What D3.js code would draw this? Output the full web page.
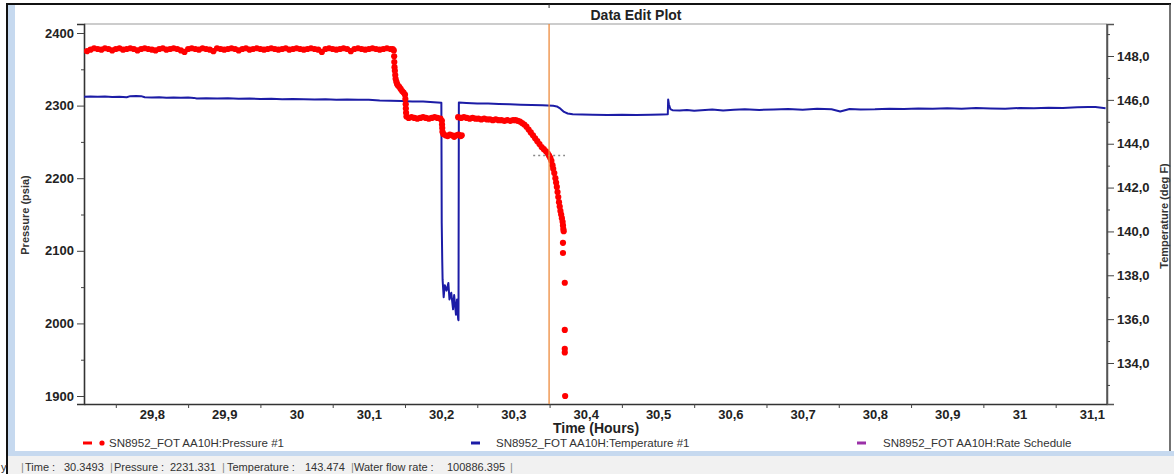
<!DOCTYPE html>
<html><head><meta charset="utf-8">
<script src="https://cdn.jsdelivr.net/npm/d3@7"></script>
<style>
body{margin:0;background:#fff;}
svg{display:block;font-family:"Liberation Sans",Arial,sans-serif;}
</style>
</head><body>
<svg id="chart" width="1174" height="474"></svg>
<script>
// ---------- data ----------
const pressure = [
[29.710,2375],[29.715,2377],[29.720,2379],[29.725,2378],[29.730,2377],[29.735,2379],[29.740,2378],[29.745,2376],
[29.750,2378],[29.755,2379],[29.760,2377],[29.765,2378],[29.770,2379],[29.775,2378],[29.780,2376],[29.785,2378],
[29.790,2379],[29.795,2378],[29.800,2377],[29.805,2376],[29.810,2378],[29.815,2379],[29.820,2377],[29.825,2378],
[29.830,2379],[29.835,2378],[29.840,2376],[29.845,2374],[29.850,2378],[29.855,2379],[29.860,2378],[29.865,2377],
[29.870,2379],[29.875,2378],[29.880,2377],[29.885,2375],[29.890,2379],[29.895,2378],[29.900,2377],[29.905,2378],
[29.910,2379],[29.915,2378],[29.920,2376],[29.925,2378],[29.930,2379],[29.935,2377],[29.940,2378],[29.945,2379],
[29.950,2378],[29.955,2377],[29.960,2378],[29.965,2379],[29.970,2378],[29.975,2377],[29.980,2378],[29.985,2379],
[29.990,2377],[29.995,2378],[30.000,2379],[30.005,2378],[30.010,2377],[30.015,2378],[30.020,2379],[30.025,2378],
[30.030,2377],[30.035,2374],[30.040,2378],[30.045,2379],[30.050,2378],[30.055,2377],[30.060,2378],[30.065,2379],
[30.070,2378],[30.075,2375],[30.080,2378],[30.085,2379],[30.090,2378],[30.095,2377],[30.100,2378],[30.105,2379],
[30.110,2378],[30.115,2377],[30.120,2378],[30.125,2379],[30.130,2378],[30.133,2378],[30.1345,2376],
[30.1350,2368],[30.1352,2360],[30.1355,2353],[30.1360,2348],[30.1365,2342],[30.1370,2337],[30.1380,2333],
[30.1390,2330],[30.1400,2328],[30.1420,2326],[30.1440,2323],[30.1460,2320],[30.1480,2318],[30.1500,2315],
[30.1505,2309],[30.1510,2302],[30.1512,2296],[30.1515,2290],[30.1520,2285],
[30.1550,2283],[30.1590,2284],[30.1630,2283],[30.1670,2282],[30.1710,2283],[30.1750,2284],[30.1790,2283],
[30.1830,2282],[30.1870,2283],[30.1910,2284],[30.1950,2283],[30.1990,2282],
[30.2010,2279],[30.2012,2274],[30.2015,2269],[30.2018,2264],
[30.2030,2261],[30.2060,2259],[30.2090,2258],[30.2120,2260],[30.2150,2259],[30.2180,2257],[30.2210,2259],
[30.2240,2260],[30.2270,2258],[30.2285,2259],
[30.2235,2284],[30.2275,2283],[30.2315,2284],[30.2355,2283],[30.2395,2282],[30.2435,2283],[30.2475,2282],
[30.2515,2282],[30.2555,2281],[30.2595,2282],[30.2635,2281],[30.2675,2281],[30.2715,2280],[30.2755,2281],
[30.2795,2280],[30.2835,2280],[30.2875,2279],[30.2915,2280],[30.2955,2279],[30.2995,2280],
[30.3030,2280],[30.3060,2279],[30.3090,2278],[30.3120,2276],[30.3150,2274],[30.3180,2271],[30.3210,2267],
[30.3240,2263],[30.3270,2259],[30.3300,2255],[30.3330,2251],[30.3360,2247],[30.3390,2243],[30.3420,2240],
[30.3450,2237],[30.3475,2234],[30.3493,2231],[30.3510,2228],[30.3525,2224],[30.3540,2218],[30.3550,2213],
[30.3565,2207],[30.3580,2200],[30.3590,2194],[30.3600,2188],[30.3610,2181],[30.3620,2174],[30.3630,2167],
[30.3640,2161],[30.3650,2155],[30.3660,2150],[30.3670,2145],[30.3680,2140],[30.3685,2135],[30.3690,2130],
[30.3695,2127],
[30.3685,2111],[30.3685,2097],[30.3710,2056],[30.3710,1991],[30.3710,1965],[30.3710,1960],[30.3715,1900]
];

const temperature = [
[29.706,146.14],[29.715,146.15],[29.725,146.14],[29.735,146.15],[29.745,146.13],[29.755,146.14],[29.765,146.12],
[29.770,146.17],[29.778,146.18],[29.785,146.17],[29.790,146.12],[29.800,146.11],[29.810,146.12],[29.820,146.10],
[29.830,146.11],[29.840,146.10],[29.850,146.11],[29.858,146.09],[29.862,146.06],[29.875,146.07],[29.890,146.06],
[29.905,146.07],[29.920,146.05],[29.935,146.06],[29.950,146.04],[29.965,146.05],[29.980,146.03],[29.995,146.04],
[30.010,146.03],[30.025,146.02],[30.040,146.03],[30.055,146.01],[30.070,146.02],[30.085,146.00],[30.100,146.00],
[30.115,145.97],[30.130,145.96],[30.145,145.95],[30.160,145.93],[30.175,145.92],[30.190,145.89],[30.2003,145.87],
[30.2008,140.4],[30.2015,138.7],[30.2020,137.8],[30.2035,137.0],[30.2050,137.55],[30.2075,137.3],[30.2100,137.65],
[30.2115,136.9],[30.2140,137.2],[30.2165,136.45],[30.2180,137.1],[30.2205,136.2],[30.2220,136.9],[30.2235,136.0],
[30.2240,135.95],[30.2245,145.88],[30.235,145.86],[30.250,145.84],[30.265,145.83],[30.280,145.81],[30.295,145.80],
[30.310,145.78],[30.325,145.77],[30.340,145.75],[30.355,145.73],[30.360,145.70],[30.365,145.60],[30.370,145.45],
[30.375,145.38],[30.382,145.34],[30.395,145.33],[30.410,145.32],[30.430,145.31],[30.450,145.32],[30.470,145.31],
[30.490,145.32],[30.505,145.33],[30.5135,145.34],[30.5140,146.02],[30.5150,145.80],[30.5170,145.58],[30.520,145.53],
[30.530,145.51],[30.540,145.54],[30.550,145.50],[30.560,145.53],[30.575,145.56],[30.590,145.52],[30.605,145.55],
[30.620,145.57],[30.640,145.54],[30.660,145.56],[30.680,145.58],[30.700,145.55],[30.720,145.59],[30.740,145.57],
[30.752,145.47],[30.765,145.58],[30.780,145.56],[30.800,145.57],[30.820,145.60],[30.840,145.58],[30.860,145.61],
[30.880,145.59],[30.900,145.62],[30.920,145.60],[30.940,145.63],[30.960,145.61],[30.980,145.60],[31.000,145.63],
[31.020,145.62],[31.040,145.64],[31.060,145.63],[31.080,145.66],[31.095,145.68],[31.105,145.67],[31.119,145.62]
];

const xTicks = [29.8,29.9,30.0,30.1,30.2,30.3,30.4,30.5,30.6,30.7,30.8,30.9,31.0,31.1];
const xMinorTicks = [29.75,29.85,29.95,30.05,30.15,30.25,30.35,30.45,30.55,30.65,30.75,30.85,30.95,31.05];
const pTicks = [1900,2000,2100,2200,2300,2400];
const pMinorTicks = [1950,2050,2150,2250,2350];
const tTicks = [134,136,138,140,142,144,146,148];
const tMinorTicks = [133,135,137,139,141,143,145,147,149];

const cursorTime = 30.3493;
const cursorPressure = 2231.331;
const cursorTemperature = 143.474;
const cursorRate = 100886.395;

const legendNames = ["SN8952_FOT AA10H:Pressure #1","SN8952_FOT AA10H:Temperature #1","SN8952_FOT AA10H:Rate Schedule"];
const legendColors = ["#ff0000","#1c1ca6","#9b30a8"];

// ---------- layout ----------
const svg = d3.select("#chart");
const L = 84, R = 1107, T = 24, B = 404;

const x = d3.scaleLinear().domain([29.706, 31.121]).range([L, R]);
const yP = d3.scaleLinear().domain([1889, 2412.4]).range([B, T]);
const yT = d3.scaleLinear().domain([132.13, 149.46]).range([B, T]);

// window frame
svg.append("rect").attr("x",0).attr("y",0).attr("width",1174).attr("height",474).attr("fill","#fff");
svg.append("rect").attr("x",7).attr("y",456).attr("width",1167).attr("height",18).attr("fill","#f1f1f1");
svg.append("rect").attr("x",8).attr("y",5).attr("width",7).attr("height",448).attr("fill","#c6d9ef");
svg.append("rect").attr("x",7).attr("y",451).attr("width",1167).attr("height",5).attr("fill","#c6d9ef");
svg.append("line").attr("x1",7).attr("x2",7).attr("y1",3).attr("y2",474).attr("stroke","#111").attr("stroke-width",2);
svg.append("line").attr("x1",6).attr("x2",1171).attr("y1",4).attr("y2",4).attr("stroke","#111").attr("stroke-width",2);
svg.append("line").attr("x1",1170).attr("x2",1170).attr("y1",4).attr("y2",451).attr("stroke","#444").attr("stroke-width",1.5);

// title
svg.append("text").attr("x",636).attr("y",20).attr("text-anchor","middle")
  .attr("font-size",14).attr("font-weight","bold").attr("fill","#222").text("Data Edit Plot");

// plot border
svg.append("line").attr("x1",L).attr("x2",R).attr("y1",T).attr("y2",T).attr("stroke","#9a9a9a").attr("stroke-width",1.2);
svg.append("line").attr("x1",R).attr("x2",R).attr("y1",T).attr("y2",B).attr("stroke","#555").attr("stroke-width",1.5);

const comma = s => s.replace(".", ",");
const fmtX = d => comma(Math.abs(d - Math.round(d)) < 1e-9 ? String(Math.round(d)) : d3.format(".1f")(d));

function styleAxis(g){
  g.select(".domain").attr("stroke","#333").attr("stroke-width",1.6);
  g.selectAll(".tick line").attr("stroke","#444");
  g.selectAll(".tick text").attr("fill","#222").attr("font-size",13).attr("font-weight","bold")
    .attr("font-family","Liberation Sans, Arial, sans-serif");
}

// x axis
const gx = svg.append("g").attr("transform",`translate(0,${B})`)
  .call(d3.axisBottom(x).tickValues(xTicks).tickSize(0).tickPadding(6).tickFormat(fmtX));
styleAxis(gx);
const gxm = svg.append("g").attr("transform",`translate(0,${B})`)
  .call(d3.axisBottom(x).tickValues(xMinorTicks).tickSize(4).tickFormat(""));
gxm.select(".domain").remove(); gxm.selectAll(".tick line").attr("stroke","#444");

// left axis
const gl = svg.append("g").attr("transform",`translate(${L},0)`)
  .call(d3.axisLeft(yP).tickValues(pTicks).tickSize(7).tickPadding(3).tickFormat(d3.format("d")));
styleAxis(gl);
const glm = svg.append("g").attr("transform",`translate(${L},0)`)
  .call(d3.axisLeft(yP).tickValues(pMinorTicks).tickSize(3).tickFormat(""));
glm.select(".domain").remove(); glm.selectAll(".tick line").attr("stroke","#444");

// right axis
const gr = svg.append("g").attr("transform",`translate(${R},0)`)
  .call(d3.axisRight(yT).tickValues(tTicks).tickSize(7).tickPadding(3).tickFormat(d => comma(d3.format(".1f")(d))));
styleAxis(gr);
gr.select(".domain").attr("stroke","#555").attr("stroke-width",1.5);
const grm = svg.append("g").attr("transform",`translate(${R},0)`)
  .call(d3.axisRight(yT).tickValues(tMinorTicks).tickSize(3).tickFormat(""));
grm.select(".domain").remove(); grm.selectAll(".tick line").attr("stroke","#444");

// axis titles
svg.append("text").attr("transform",`translate(29,215) rotate(-90)`).attr("text-anchor","middle")
  .attr("font-size",11).attr("font-weight","bold").attr("fill","#333").text("Pressure (psia)");
svg.append("text").attr("transform",`translate(1168,216) rotate(-90)`).attr("text-anchor","middle")
  .attr("font-size",11).attr("font-weight","bold").attr("fill","#333").text("Temperature (deg F)");
svg.append("text").attr("x",596).attr("y",433).attr("text-anchor","middle")
  .attr("font-size",14).attr("font-weight","bold").attr("fill","#222").text("Time (Hours)");

// clip
svg.append("clipPath").attr("id","clip").append("rect").attr("x",L).attr("y",T).attr("width",R-L).attr("height",B-T);
const plot = svg.append("g").attr("clip-path","url(#clip)");

// temperature line
plot.append("path").datum(temperature)
  .attr("d", d3.line().x(d=>x(d[0])).y(d=>yT(d[1])))
  .attr("fill","none").attr("stroke",legendColors[1]).attr("stroke-width",2).attr("stroke-linejoin","round");

// pressure dots
plot.selectAll("circle.p").data(pressure).join("circle").attr("class","p")
  .attr("cx",d=>x(d[0])).attr("cy",d=>yP(d[1])).attr("r",3.1).attr("fill",legendColors[0]);

// cursor
svg.append("line").attr("x1",x(cursorTime)).attr("x2",x(cursorTime)).attr("y1",T).attr("y2",B)
  .attr("stroke","#ee8a3c").attr("stroke-width",1.3);
svg.append("line").attr("x1",x(cursorTime)).attr("x2",x(cursorTime)).attr("y1",4).attr("y2",8)
  .attr("stroke","#333").attr("stroke-width",1);
plot.append("line").attr("x1",x(cursorTime-0.022)).attr("x2",x(cursorTime+0.022))
  .attr("y1",yP(cursorPressure)).attr("y2",yP(cursorPressure))
  .attr("stroke","#888").attr("stroke-width",1.5).attr("stroke-dasharray","2,3");

// legend
const legX = [83, 471, 857];
const legTextX = [109, 496, 883];
legendNames.forEach((n,i)=>{
  svg.append("line").attr("x1",legX[i]).attr("x2",legX[i]+9).attr("y1",443).attr("y2",443)
    .attr("stroke",legendColors[i]).attr("stroke-width",3);
  if(i===0) svg.append("circle").attr("cx",102).attr("cy",443).attr("r",2.6).attr("fill",legendColors[0]);
  svg.append("text").attr("x",legTextX[i]).attr("y",447).attr("font-size",11.5).attr("fill","#333").text(n);
});

// status bar
const status = [
  [1,"y"],[21,"|"],[25,"Time :"],[64,String(cursorTime)],[110,"|"],[114,"Pressure :"],[170,cursorPressure.toFixed(3)],
  [222,"|"],[227,"Temperature :"],[305,cursorTemperature.toFixed(3)],[351,"|"],[354,"Water flow rate :"],
  [447,cursorRate.toFixed(3)],[510,"|"]
];
status.forEach(s=>{
  svg.append("text").attr("x",s[0]).attr("y",471).attr("font-size",11)
    .attr("font-family","Liberation Sans, Arial, sans-serif").attr("fill",s[1]==="|"?"#888":"#333").text(s[1]);
});
</script>
</body></html>
